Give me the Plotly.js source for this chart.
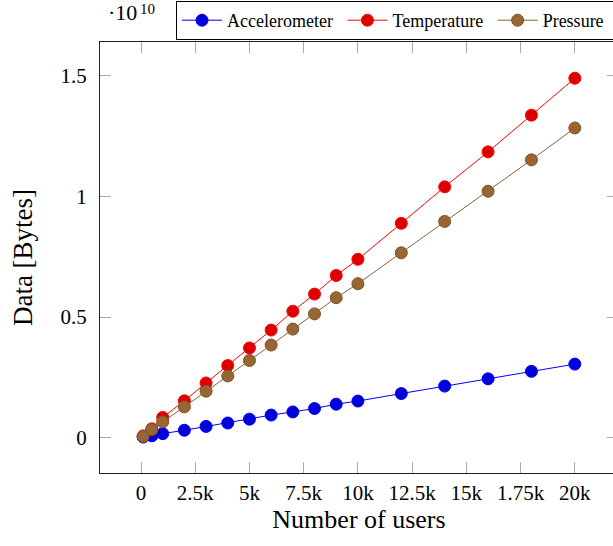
<!DOCTYPE html>
<html>
<head>
<meta charset="utf-8">
<script src="https://cdn.plot.ly/plotly-3.0.1.min.js"></script>
<style>
html,body{margin:0;padding:0;overflow:hidden;background:#fff;}
#chart{width:680px;height:546px;}
</style>
</head>
<body>
<div id="chart"></div>
<script>
// Number of users
const users = [100, 500, 1000, 2000, 3000, 4000, 5000, 6000, 7000, 8000, 9000, 10000, 12000, 14000, 16000, 18000, 20000];
// Data in units of 10^10 bytes
const accelerometer = [0.003, 0.008, 0.017, 0.031, 0.047, 0.061, 0.077, 0.094, 0.107, 0.121, 0.139, 0.152, 0.183, 0.214, 0.244, 0.275, 0.305];
const temperature = [0.0075, 0.037, 0.084, 0.153, 0.227, 0.299, 0.372, 0.446, 0.524, 0.595, 0.672, 0.739, 0.888, 1.039, 1.184, 1.336, 1.489];
const pressure = [0.006, 0.034, 0.066, 0.128, 0.193, 0.256, 0.320, 0.384, 0.450, 0.513, 0.580, 0.638, 0.766, 0.896, 1.021, 1.151, 1.283];
const seriesNames = ['Accelerometer', 'Temperature', 'Pressure'];
const xTickVals = [0, 2500, 5000, 7500, 10000, 12500, 15000, 17500, 20000];
const xTickText = ['0', '2.5k', '5k', '7.5k', '10k', '12.5k', '15k', '1.75k', '20k'];
const yTickVals = [0, 0.5, 1, 1.5];
const yTickText = ['0', '0.5', '1', '1.5'];

const serif = 'Liberation Serif, Times New Roman, serif';
const pad = '\u00a0';

function trace(name, y, lineColor, fillColor, edgeColor) {
  return {
    x: users, y: y, name: name + pad, type: 'scatter', mode: 'lines+markers',
    line: {color: lineColor, width: 1},
    marker: {size: 12, color: fillColor, line: {color: edgeColor, width: 1}}
  };
}

const data = [
  trace(seriesNames[0], accelerometer, '#0000ff', '#0000d8', '#0000ff'),
  trace(seriesNames[1], temperature, '#ff0000', '#dd0000', '#ff0000'),
  trace(seriesNames[2], pressure, '#8b6239', '#996633', '#7a5229')
];

const axisCommon = {
  showgrid: false, zeroline: false, showline: true, linecolor: '#222', linewidth: 1,
  mirror: 'allticks', ticks: 'inside', ticklen: 11, tickcolor: '#aaa', tickwidth: 1,
  tickfont: {family: serif, size: 21, color: '#000'}
};

const layout = {
  width: 680, height: 546,
  margin: {l: 100, r: 62, t: 42, b: 73},
  paper_bgcolor: '#fff', plot_bgcolor: '#fff',
  showlegend: true,
  legend: {
    orientation: 'h', xref: 'container', yref: 'container',
    x: 176 / 680, xanchor: 'left', y: 1 - 1 / 546, yanchor: 'top',
    bordercolor: '#000', borderwidth: 1, bgcolor: '#fff',
    font: {family: serif, size: 18, color: '#000'},
    tracegroupgap: 0, itemwidth: 40
  },
  xaxis: Object.assign({}, axisCommon, {
    range: [-1890, 21990], tickmode: 'array', tickvals: xTickVals, ticktext: xTickText,
    ticklabelstandoff: 1,
    title: {text: 'Number of users', font: {family: serif, size: 26, color: '#000'}, standoff: 4}
  }),
  yaxis: Object.assign({}, axisCommon, {
    range: [-0.146, 1.639], tickmode: 'array', tickvals: yTickVals, ticktext: yTickText,
    ticklabelstandoff: 8,
    title: {text: 'Data [Bytes]', font: {family: serif, size: 27, color: '#000'}, standoff: 20}
  }),
  annotations: [
    {text: '·10', xref: 'paper', yref: 'paper', x: 0.0116, y: 1.0673, xanchor: 'left', yanchor: 'middle',
     showarrow: false, font: {family: serif, size: 22, color: '#000'}},
    {text: '10', xref: 'paper', yref: 'paper', x: 0.074, y: 1.077, xanchor: 'left', yanchor: 'middle',
     showarrow: false, font: {family: serif, size: 15, color: '#000'}}
  ]
};

Plotly.newPlot('chart', data, layout, {displayModeBar: false, staticPlot: true});
</script>
</body>
</html>
